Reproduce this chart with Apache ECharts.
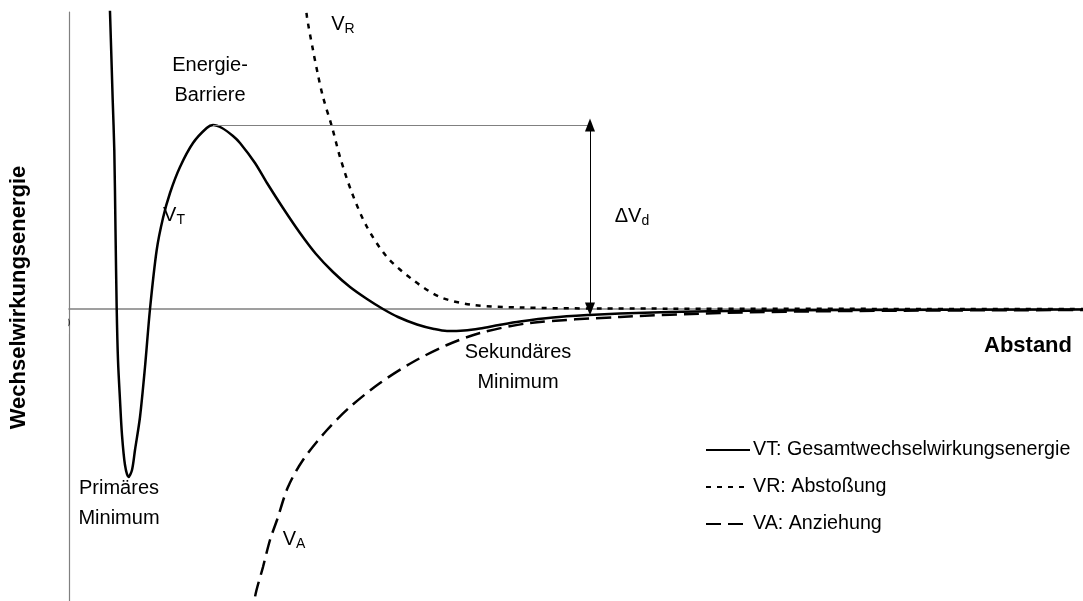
<!DOCTYPE html>
<html>
<head>
<meta charset="utf-8">
<script src="https://cdn.jsdelivr.net/npm/echarts@6/dist/echarts.min.js"></script>
<style>
html,body{margin:0;padding:0;background:#fff;}
#chart{width:1083px;height:601px;}
</style>
</head>
<body>
<div id="chart"></div>
<script>
// Legend names
const seriesNames = ['VT: Gesamtwechselwirkungsenergie', 'VR: Abstoßung', 'VA: Anziehung'];

// VT: total interaction energy [distance, energy] (arbitrary units)
const vtPoints = [
  [39.5, 339], [41, 297], [43.7, 209], [45.3, 159], [46.5, 79], [47.7, 0],
  [49, -51], [51, -91], [53, -126], [56, -156], [59.5, -168], [63, -161],
  [66, -141], [71, -108], [76, -58], [81, 0], [87.7, 59], [94, 91],
  [101, 116], [111, 142], [124, 166], [137.7, 181], [144, 184], [153, 181],
  [164, 173], [171, 166], [186, 146], [198, 126], [214, 101], [231, 76],
  [247, 55], [264, 37], [281, 22], [298, 10], [314, 0], [329, -8],
  [348, -15.5], [365, -20], [378, -22], [395, -21.5], [411, -19.5], [430, -16],
  [451, -12.5], [484, -8.5], [520, -6], [551, -4.5], [600, -3], [680, -1.8],
  [780, -1], [1014, -0.5]
];

// VR: repulsion
const vrPoints = [
  [234, 329], [238, 292], [244, 259], [249, 234], [254, 212], [263, 182],
  [271, 152], [283, 116], [298, 82], [318, 52], [344, 29], [371, 12],
  [404, 4], [451, 1.5], [531, 0.5], [1014, 0]
];

// VA: attraction
const vaPoints = [
  [181, -331], [186, -288], [194, -258], [201, -231], [208, -211], [219, -178],
  [234, -151], [258, -121], [281, -98], [311, -74], [344, -53], [378, -36],
  [411, -24], [461, -14], [551, -8], [651, -4], [781, -2], [1014, -1]
];

// Energy barrier level and the distance where ΔVd arrow is drawn
const barrierStart = [144, 184];
const barrierEndX = 521;

// Axis ranges
const xRange = [0, 1014];
const yRange = [-292, 297];

const FONT = 'Liberation Sans, Arial, sans-serif';
const FS = 20;
const FSB = 22;
const rich = {
  m: { fontSize: FS, fontFamily: FONT, color: '#000', lineHeight: 30 },
  s: { fontSize: 14, fontFamily: FONT, color: '#000', padding: [10, 0, 0, 0] }
};

// Annotations: [x, y, text]
const annotations = [
  [141, 229, '{m|Energie-}\n{m|Barriere}'],
  [274, 285, '{m|V}{s|R}'],
  [105, 94, '{m|V}{s|T}'],
  [563, 93, '{m|ΔV}{s|d}'],
  [449, -58, '{m|Sekundäres}\n{m|Minimum}'],
  [50, -194, '{m|Primäres}\n{m|Minimum}'],
  [225, -230, '{m|V}{s|A}']
];

const chart = echarts.init(document.getElementById('chart'), null, {renderer: 'canvas'});

const annotationPoints = annotations.map(a => ({
  coord: [a[0], a[1]],
  symbol: 'rect',
  symbolSize: 1,
  itemStyle: { color: 'rgba(0,0,0,0)' },
  label: {
    show: true,
    position: 'inside',
    align: 'center',
    verticalAlign: 'middle',
    formatter: a[2],
    rich: rich
  }
}));

const option = {
  backgroundColor: '#fff',
  animation: false,
  grid: { left: 69, right: 0, top: 12, bottom: 0, containLabel: false, outerBoundsMode: 'none' },
  xAxis: {
    type: 'value', min: xRange[0], max: xRange[1],
    axisLine: { show: true, onZero: true, lineStyle: { color: '#808080', width: 1.5 } },
    axisTick: { show: false }, axisLabel: { show: false }, splitLine: { show: false }
  },
  yAxis: {
    type: 'value', min: yRange[0], max: yRange[1],
    name: 'Wechselwirkungsenergie',
    nameLocation: 'middle', nameGap: 39, nameRotate: 90,
    nameTextStyle: { fontSize: FSB, fontWeight: 'bold', fontFamily: FONT, color: '#000', padding: [0, 0, 0, 18] },
    axisLine: { show: true, onZero: false, lineStyle: { color: '#808080', width: 1.2 } },
    axisTick: { show: false }, axisLabel: { show: false }, splitLine: { show: false }
  },
  legend: {
    orient: 'vertical', left: 705, top: 440, padding: 0,
    itemWidth: 44, itemHeight: 14, itemGap: 17,
    itemStyle: { color: 'rgba(0,0,0,0)', borderWidth: 0, opacity: 0 },
    textStyle: { fontSize: 19.7, fontFamily: FONT, color: '#000', padding: [0, 0, 0, -2] },
    data: seriesNames
  },
  graphic: [
    {
      type: 'text', left: 63, top: 317, z: 1,
      style: { text: '0', font: '13px ' + FONT, fill: '#000' }
    },
    {
      type: 'rect', left: 58, top: 314, z: 2,
      shape: { width: 10.4, height: 20 },
      style: { fill: '#fff' }
    },
    {
      type: 'text', right: 11, top: 335,
      style: { text: 'Abstand', font: 'bold ' + FSB + 'px ' + FONT, fill: '#000' }
    }
  ],
  series: [
    {
      name: seriesNames[0], type: 'line', data: vtPoints,
      showSymbol: false, symbol: 'none', smooth: 0.3,
      lineStyle: { color: '#000', width: 2.5, type: 'solid' },
      itemStyle: { color: '#000' },
      markLine: {
        silent: true, animation: false,
        label: { show: false },
        data: [
          [
            { coord: barrierStart, symbol: 'none', lineStyle: { color: '#808080', width: 1.2, type: 'solid' } },
            { coord: [barrierEndX, barrierStart[1]], symbol: 'none' }
          ],
          [
            { coord: [barrierEndX, barrierStart[1]], symbol: 'triangle', symbolSize: [10, 13], lineStyle: { color: '#000', width: 1, type: 'solid' } },
            { coord: [barrierEndX, 0], symbol: 'triangle', symbolSize: [10, 13] }
          ]
        ]
      },
      markPoint: { silent: true, data: annotationPoints }
    },
    {
      name: seriesNames[1], type: 'line', data: vrPoints,
      showSymbol: false, symbol: 'none', smooth: 0.3,
      lineStyle: { color: '#000', width: 2.5, type: [5, 6] },
      itemStyle: { color: '#000' }
    },
    {
      name: seriesNames[2], type: 'line', data: vaPoints,
      showSymbol: false, symbol: 'none', smooth: 0.3,
      lineStyle: { color: '#000', width: 2.5, type: [15, 7] },
      itemStyle: { color: '#000' }
    }
  ]
};
chart.setOption(option);
</script>
</body>
</html>
